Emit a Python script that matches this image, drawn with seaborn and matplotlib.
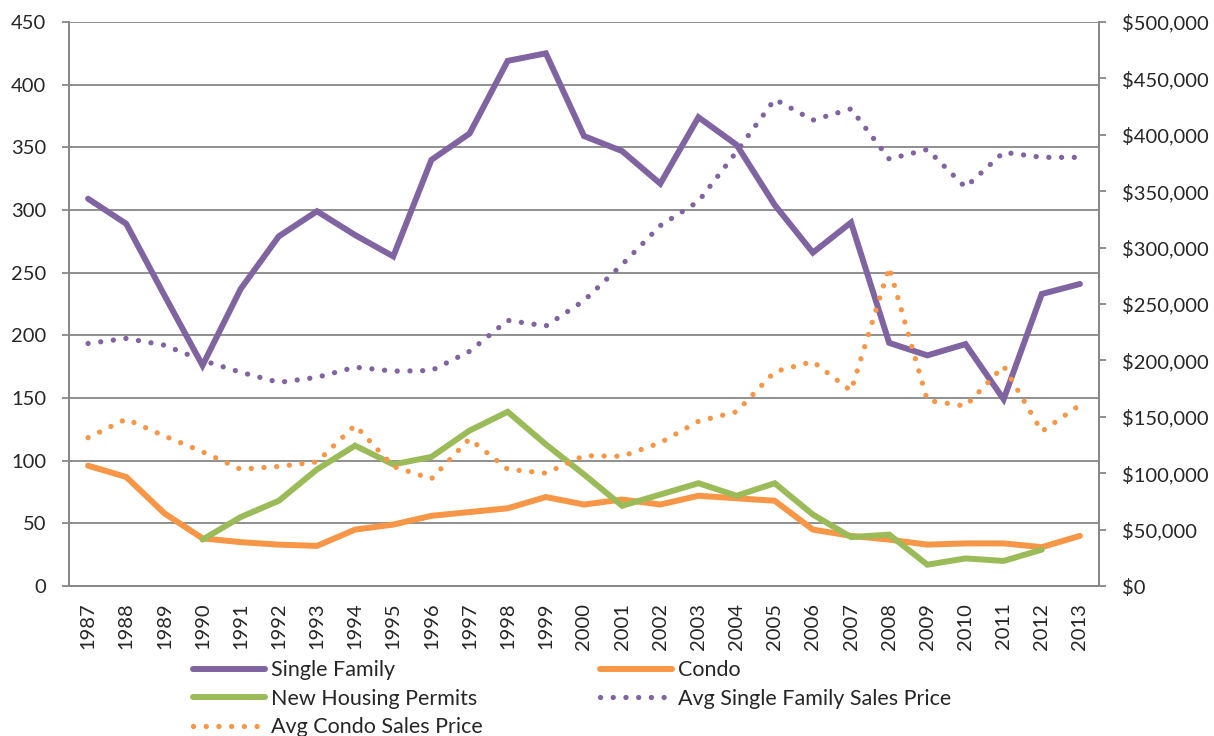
import matplotlib
matplotlib.use("Agg")
import matplotlib.pyplot as plt
import matplotlib.ticker as mticker
import numpy as np
import pandas as pd
import seaborn as sns
from matplotlib.font_manager import FontProperties
from matplotlib.textpath import TextPath

# chart values
years = list(range(1987, 2014))
single_family = [309, 289, 232, 176, 237, 279, 299, 280, 263, 340, 361, 419, 425, 359,
                 347, 321, 374, 352, 304, 266, 290, 194, 184, 193, 149, 233, 241]
condo = [96, 87, 58, 38, 35, 33, 32, 45, 49, 56, 59, 62, 71, 65,
         69, 65, 72, 70, 68, 45, 40, 37, 33, 34, 34, 31, 40]
permits = [np.nan, np.nan, np.nan, 37, 55, 68, 93, 112, 97, 103, 124, 139, 113, 89,
           64, 73, 82, 72, 82, 57, 39, 41, 17, 22, 20, 29, np.nan]
avg_sf_price = [215000, 219500, 213500, 200000, 189500, 180500, 185000, 194000, 190500,
                191000, 208000, 235500, 230500, 253000, 285000, 319500, 341000, 385000,
                431500, 413000, 423000, 378500, 387000, 353500, 384500, 380000, 380000]
avg_condo_price = [131500, 148000, 133000, 119000, 103500, 106000, 110000, 142500, 106000,
                   95000, 130500, 103500, 100000, 115500, 115000, 127000, 146000, 154500,
                   190000, 199000, 173000, 282500, 164500, 159500, 195000, 137000, 160500]

PURPLE = "#8064A2"
ORANGE = "#F79646"
GREEN = "#9BBB59"
GRID = "#878787"
FONT = ["Lato", "DejaVu Sans"]
W, H = 1214, 736

df = pd.DataFrame({
    "year": years,
    "Single Family": single_family,
    "Condo": condo,
    "New Housing Permits": permits,
    "Avg Single Family Sales Price": avg_sf_price,
    "Avg Condo Sales Price": avg_condo_price,
})

sns.set_style("white")
plt.rcParams["font.family"] = FONT
plt.rcParams["font.size"] = 14.5

fig = plt.figure(figsize=(W / 100, H / 100), dpi=100)
ax = fig.add_axes([69 / W, (H - 586) / H, 1030 / W, 564 / H])
ax2 = ax.twinx()

solid_kw = dict(linewidth=4.3, solid_capstyle="round", solid_joinstyle="miter")
dot_kw = dict(linewidth=3.8, linestyle=(0, (0.01, 2.4)), dash_capstyle="round")

sns.lineplot(data=df, x="year", y="Single Family", ax=ax, color=PURPLE,
             label="Single Family", legend=False, **solid_kw)
sns.lineplot(data=df, x="year", y="Condo", ax=ax, color=ORANGE,
             label="Condo", legend=False, **solid_kw)
sns.lineplot(data=df.dropna(subset=["New Housing Permits"]), x="year",
             y="New Housing Permits", ax=ax, color=GREEN,
             label="New Housing Permits", legend=False, **solid_kw)
sns.lineplot(data=df, x="year", y="Avg Single Family Sales Price", ax=ax2, color=PURPLE,
             label="Avg Single Family Sales Price", legend=False, **dot_kw)
sns.lineplot(data=df, x="year", y="Avg Condo Sales Price", ax=ax2, color=ORANGE,
             label="Avg Condo Sales Price", legend=False, **dot_kw)

# axes ranges and ticks
ax.set_xlim(years[0] - 0.5, years[-1] + 0.5)
ax.set_ylim(0, 450)
ax2.set_ylim(0, 500000)
ax.set_yticks(range(0, 451, 50))
ax2.set_yticks(range(0, 500001, 50000))
ax2.yaxis.set_major_formatter(mticker.FuncFormatter(lambda v, p: f"${v:,.0f}"))

ax.set_xticks(years)
ax.set_xticklabels([str(y) for y in years], rotation=90)
ax.set_xticks(np.arange(years[0] - 0.5, years[-1] + 1.0, 1.0), minor=True)
ax.tick_params(axis="x", which="major", length=0, pad=12)
ax.tick_params(axis="x", which="minor", length=4.5, width=1.3, color=GRID, direction="out")
ax.tick_params(axis="y", length=5, width=1.3, color=GRID, pad=11.5)
ax2.tick_params(axis="y", length=5, width=1.3, color=GRID, pad=11.5)

ax.set_xlabel("")
ax.set_ylabel("")
ax2.set_ylabel("")

ax.grid(axis="y", color=GRID, linewidth=1.3)
ax.set_axisbelow(True)
for a in (ax, ax2):
    a.spines["top"].set_visible(False)
    for side in ("left", "right", "bottom"):
        a.spines[side].set_color(GRID)
        a.spines[side].set_linewidth(1.3)

# legend: size the font so the longest entry matches the original width
def text_px(s, size):
    tp = TextPath((0, 0), s, size=size, prop=FontProperties(family=FONT))
    return tp.get_extents().width * 100 / 72

leg_fs = 15.0 * 272 / text_px("Avg Single Family Sales Price", 15.0)
fs_px = leg_fs * 100 / 72
col1_w = text_px("Avg Condo Sales Price", leg_fs)
handle_px, pad_px = 72, 6
col_gap = (599 - 193) - (handle_px + pad_px + col1_w)
text_h = fs_px * 1.2

handles = {l.get_label(): l for l in ax.get_lines() + ax2.get_lines()}
order = ["Single Family", "New Housing Permits", "Avg Condo Sales Price",
         "Condo", "Avg Single Family Sales Price"]
fig.legend([handles[k] for k in order], order, ncol=2, frameon=False,
           loc="upper left",
           bbox_to_anchor=(193 / W, (H - (673 - text_h / 2)) / H),
           handlelength=handle_px / fs_px, handletextpad=pad_px / fs_px,
           columnspacing=col_gap / fs_px,
           labelspacing=(34.5 - text_h) / fs_px,
           borderaxespad=0, borderpad=0, fontsize=leg_fs)

fig.savefig("out.png", dpi=100)
